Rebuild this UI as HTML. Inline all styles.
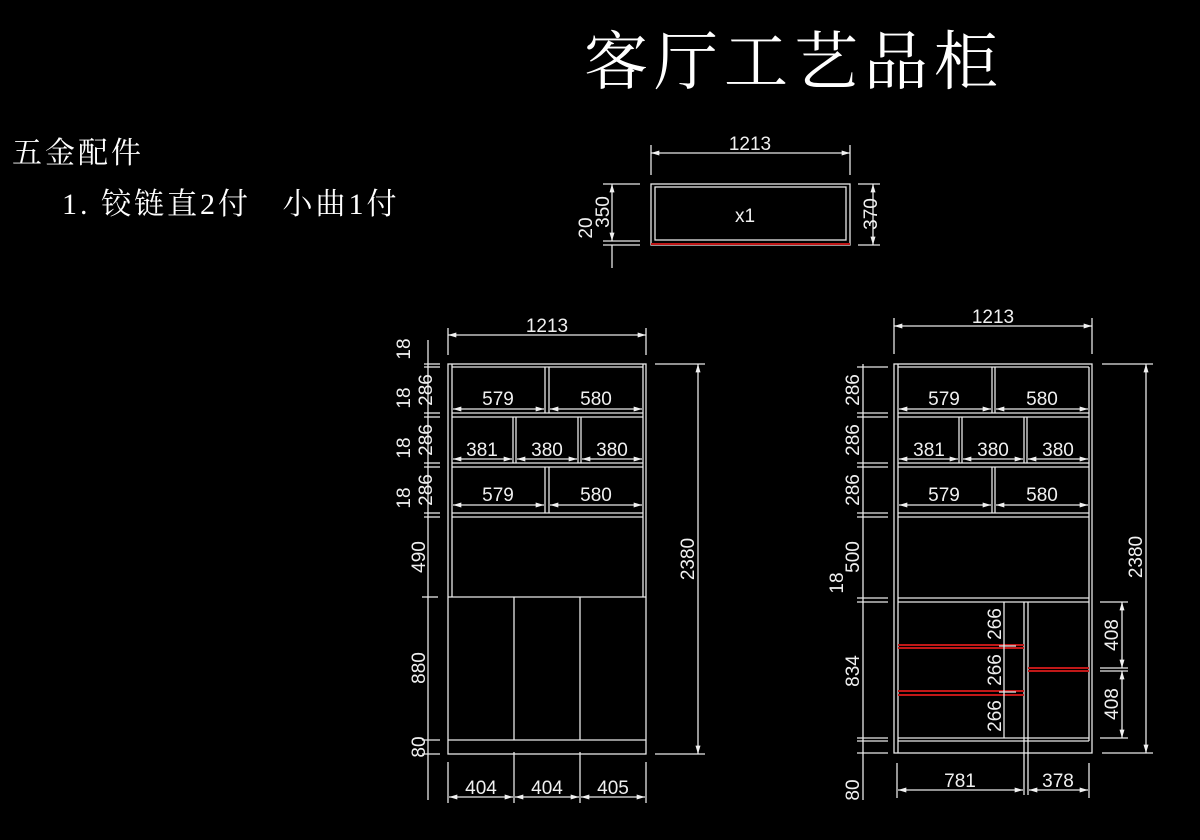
<!DOCTYPE html>
<html><head><meta charset="utf-8"><style>
html,body{margin:0;padding:0;background:#000;width:1200px;height:840px;overflow:hidden}
svg{display:block}
.l{stroke:#e8e8e8;stroke-width:1.3;fill:none}
.r{stroke:#c01818;stroke-width:2;fill:none}
.t{fill:#f0f0f0;font-family:"Liberation Sans",sans-serif;font-size:19px;text-anchor:middle}
</style></head><body>
<svg width="1200" height="840" viewBox="0 0 1200 840">
<defs>
<marker id="a" viewBox="0 0 10 6" refX="10" refY="3" markerWidth="10" markerHeight="5" markerUnits="userSpaceOnUse" orient="auto-start-reverse"><path d="M0,0L10,3L0,6z" fill="#f0f0f0"/></marker>
</defs>
<text x="794" y="84" fill="#fff" font-family="'Noto Serif CJK SC',serif" font-size="64" letter-spacing="6" text-anchor="middle">客厅工艺品柜</text>
<text x="12" y="163" fill="#fff" font-family="'Liberation Serif','Noto Serif CJK SC',serif" font-size="30" letter-spacing="3">五金配件</text>
<text x="62" y="214" fill="#fff" font-family="'Liberation Serif','Noto Serif CJK SC',serif" font-size="30" letter-spacing="3" xml:space="preserve">1. 铰链直2付   小曲1付</text>

<!-- top box -->
<g>
<rect class="l" x="651" y="184" width="199" height="61"/>
<rect class="l" x="655" y="187" width="191" height="53"/>
<line class="r" x1="651" y1="244" x2="850" y2="244"/>
<text class="t" x="745" y="222">x1</text>
<line class="l" x1="651" y1="145" x2="651" y2="175"/><line class="l" x1="850" y1="145" x2="850" y2="175"/>
<line class="l" x1="651" y1="153" x2="850" y2="153" marker-start="url(#a)" marker-end="url(#a)"/>
<text class="t" x="750" y="150">1213</text>
<line class="l" x1="603" y1="184" x2="640" y2="184"/><line class="l" x1="603" y1="241" x2="640" y2="241"/><line class="l" x1="603" y1="245" x2="640" y2="245"/>
<line class="l" x1="612" y1="184" x2="612" y2="241" marker-start="url(#a)" marker-end="url(#a)"/>
<line class="l" x1="612" y1="245" x2="612" y2="268"/>
<text class="t" transform="translate(609,212) rotate(-90)">350</text>
<text class="t" transform="translate(592,228) rotate(-90)">20</text>
<line class="l" x1="858" y1="184" x2="880" y2="184"/><line class="l" x1="858" y1="245" x2="880" y2="245"/>
<line class="l" x1="873" y1="184" x2="873" y2="245" marker-start="url(#a)" marker-end="url(#a)"/>
<text class="t" transform="translate(877,214) rotate(-90)">370</text>
</g>

<!-- LEFT cabinet -->
<g>
<rect class="l" x="448" y="364" width="198" height="390"/>
<line class="l" x1="452" y1="364" x2="452" y2="597"/><line class="l" x1="643" y1="364" x2="643" y2="597"/>
<line class="l" x1="452" y1="367" x2="643" y2="367"/>
<line class="l" x1="452" y1="413" x2="643" y2="413"/><line class="l" x1="452" y1="417" x2="643" y2="417"/>
<line class="l" x1="452" y1="463" x2="643" y2="463"/><line class="l" x1="452" y1="467" x2="643" y2="467"/>
<line class="l" x1="452" y1="513" x2="643" y2="513"/><line class="l" x1="452" y1="517" x2="643" y2="517"/>
<line class="l" x1="448" y1="597" x2="646" y2="597"/>
<line class="l" x1="448" y1="740" x2="646" y2="740"/>
<line class="l" x1="545" y1="367" x2="545" y2="413"/><line class="l" x1="549" y1="367" x2="549" y2="413"/>
<line class="l" x1="513" y1="417" x2="513" y2="463"/><line class="l" x1="516" y1="417" x2="516" y2="463"/>
<line class="l" x1="578" y1="417" x2="578" y2="463"/><line class="l" x1="581" y1="417" x2="581" y2="463"/>
<line class="l" x1="545" y1="467" x2="545" y2="513"/><line class="l" x1="549" y1="467" x2="549" y2="513"/>
<line class="l" x1="514" y1="597" x2="514" y2="740"/><line class="l" x1="580" y1="597" x2="580" y2="740"/>
<line class="l" x1="453" y1="409" x2="544" y2="409" marker-start="url(#a)" marker-end="url(#a)"/><text class="t" x="498" y="405">579</text>
<line class="l" x1="550" y1="409" x2="642" y2="409" marker-start="url(#a)" marker-end="url(#a)"/><text class="t" x="596" y="405">580</text>
<line class="l" x1="453" y1="459" x2="512" y2="459" marker-start="url(#a)" marker-end="url(#a)"/><text class="t" x="482" y="456">381</text>
<line class="l" x1="517" y1="459" x2="577" y2="459" marker-start="url(#a)" marker-end="url(#a)"/><text class="t" x="547" y="456">380</text>
<line class="l" x1="582" y1="459" x2="642" y2="459" marker-start="url(#a)" marker-end="url(#a)"/><text class="t" x="612" y="456">380</text>
<line class="l" x1="453" y1="505" x2="544" y2="505" marker-start="url(#a)" marker-end="url(#a)"/><text class="t" x="498" y="501">579</text>
<line class="l" x1="550" y1="505" x2="642" y2="505" marker-start="url(#a)" marker-end="url(#a)"/><text class="t" x="596" y="501">580</text>
<line class="l" x1="448" y1="328" x2="448" y2="355"/><line class="l" x1="646" y1="328" x2="646" y2="355"/>
<line class="l" x1="448" y1="335" x2="646" y2="335" marker-start="url(#a)" marker-end="url(#a)"/>
<text class="t" x="547" y="332">1213</text>
<line class="l" x1="655" y1="364" x2="705" y2="364"/><line class="l" x1="655" y1="754" x2="705" y2="754"/>
<line class="l" x1="698" y1="364" x2="698" y2="754" marker-start="url(#a)" marker-end="url(#a)"/>
<text class="t" transform="translate(694,559) rotate(-90)">2380</text>
<line class="l" x1="428" y1="340" x2="428" y2="800"/>
<g class="l">
<line x1="424" y1="364" x2="440" y2="364"/><line x1="424" y1="367" x2="440" y2="367"/>
<line x1="424" y1="413" x2="440" y2="413"/><line x1="424" y1="417" x2="440" y2="417"/>
<line x1="424" y1="463" x2="440" y2="463"/><line x1="424" y1="467" x2="440" y2="467"/>
<line x1="424" y1="513" x2="440" y2="513"/><line x1="424" y1="517" x2="440" y2="517"/>
<line x1="422" y1="597" x2="438" y2="597"/><line x1="422" y1="740" x2="440" y2="740"/><line x1="422" y1="754" x2="440" y2="754"/>
</g>
<text class="t" transform="translate(432,390) rotate(-90)">286</text>
<text class="t" transform="translate(432,440) rotate(-90)">286</text>
<text class="t" transform="translate(432,490) rotate(-90)">286</text>
<text class="t" transform="translate(410,349) rotate(-90)">18</text>
<text class="t" transform="translate(410,398) rotate(-90)">18</text>
<text class="t" transform="translate(410,448) rotate(-90)">18</text>
<text class="t" transform="translate(410,498) rotate(-90)">18</text>
<text class="t" transform="translate(425,557) rotate(-90)">490</text>
<text class="t" transform="translate(425,668) rotate(-90)">880</text>
<text class="t" transform="translate(425,747) rotate(-90)">80</text>
<line class="l" x1="448" y1="762" x2="448" y2="803"/><line class="l" x1="514" y1="752" x2="514" y2="803"/><line class="l" x1="580" y1="752" x2="580" y2="803"/><line class="l" x1="646" y1="762" x2="646" y2="803"/>
<line class="l" x1="449" y1="797" x2="513" y2="797" marker-start="url(#a)" marker-end="url(#a)"/><text class="t" x="481" y="794">404</text>
<line class="l" x1="515" y1="797" x2="579" y2="797" marker-start="url(#a)" marker-end="url(#a)"/><text class="t" x="547" y="794">404</text>
<line class="l" x1="581" y1="797" x2="645" y2="797" marker-start="url(#a)" marker-end="url(#a)"/><text class="t" x="613" y="794">405</text>
</g>

<!-- RIGHT cabinet -->
<g>
<rect class="l" x="894" y="364" width="198" height="389"/>
<line class="l" x1="898" y1="364" x2="898" y2="753"/><line class="l" x1="1089" y1="367" x2="1089" y2="741"/>
<line class="l" x1="898" y1="367" x2="1089" y2="367"/>
<line class="l" x1="898" y1="413" x2="1089" y2="413"/><line class="l" x1="898" y1="417" x2="1089" y2="417"/>
<line class="l" x1="898" y1="463" x2="1089" y2="463"/><line class="l" x1="898" y1="467" x2="1089" y2="467"/>
<line class="l" x1="898" y1="513" x2="1089" y2="513"/><line class="l" x1="898" y1="517" x2="1089" y2="517"/>
<line class="l" x1="898" y1="598" x2="1089" y2="598"/><line class="l" x1="898" y1="602" x2="1089" y2="602"/>
<line class="l" x1="898" y1="738" x2="1089" y2="738"/><line class="l" x1="898" y1="741" x2="1089" y2="741"/>
<line class="l" x1="992" y1="367" x2="992" y2="413"/><line class="l" x1="995" y1="367" x2="995" y2="413"/>
<line class="l" x1="959" y1="417" x2="959" y2="463"/><line class="l" x1="962" y1="417" x2="962" y2="463"/>
<line class="l" x1="1024" y1="417" x2="1024" y2="463"/><line class="l" x1="1027" y1="417" x2="1027" y2="463"/>
<line class="l" x1="992" y1="467" x2="992" y2="513"/><line class="l" x1="995" y1="467" x2="995" y2="513"/>
<line class="l" x1="1024" y1="602" x2="1024" y2="795"/><line class="l" x1="1028" y1="602" x2="1028" y2="795"/>
<line class="r" x1="898" y1="645" x2="1024" y2="645"/><line class="r" x1="898" y1="648" x2="1024" y2="648"/>
<line class="r" x1="898" y1="691" x2="1024" y2="691"/><line class="r" x1="898" y1="695" x2="1024" y2="695"/>
<line class="r" x1="1028" y1="668" x2="1089" y2="668"/><line class="r" x1="1028" y1="671" x2="1089" y2="671"/>
<line class="l" x1="999" y1="646" x2="1016" y2="646"/><line class="l" x1="999" y1="692" x2="1016" y2="692"/>
<line class="l" x1="899" y1="409" x2="991" y2="409" marker-start="url(#a)" marker-end="url(#a)"/><text class="t" x="944" y="405">579</text>
<line class="l" x1="996" y1="409" x2="1088" y2="409" marker-start="url(#a)" marker-end="url(#a)"/><text class="t" x="1042" y="405">580</text>
<line class="l" x1="899" y1="459" x2="958" y2="459" marker-start="url(#a)" marker-end="url(#a)"/><text class="t" x="929" y="456">381</text>
<line class="l" x1="963" y1="459" x2="1023" y2="459" marker-start="url(#a)" marker-end="url(#a)"/><text class="t" x="993" y="456">380</text>
<line class="l" x1="1028" y1="459" x2="1088" y2="459" marker-start="url(#a)" marker-end="url(#a)"/><text class="t" x="1058" y="456">380</text>
<line class="l" x1="899" y1="505" x2="991" y2="505" marker-start="url(#a)" marker-end="url(#a)"/><text class="t" x="944" y="501">579</text>
<line class="l" x1="996" y1="505" x2="1088" y2="505" marker-start="url(#a)" marker-end="url(#a)"/><text class="t" x="1042" y="501">580</text>
<line class="l" x1="1004" y1="602" x2="1004" y2="738"/>
<text class="t" transform="translate(1001,624) rotate(-90)">266</text>
<text class="t" transform="translate(1001,670) rotate(-90)">266</text>
<text class="t" transform="translate(1001,716) rotate(-90)">266</text>
<line class="l" x1="1100" y1="602" x2="1128" y2="602"/><line class="l" x1="1100" y1="738" x2="1128" y2="738"/>
<line class="l" x1="1100" y1="668" x2="1128" y2="668"/><line class="l" x1="1100" y1="671" x2="1128" y2="671"/>
<line class="l" x1="1122" y1="602" x2="1122" y2="668" marker-start="url(#a)" marker-end="url(#a)"/>
<line class="l" x1="1122" y1="671" x2="1122" y2="738" marker-start="url(#a)" marker-end="url(#a)"/>
<text class="t" transform="translate(1118,635) rotate(-90)">408</text>
<text class="t" transform="translate(1118,704) rotate(-90)">408</text>
<line class="l" x1="894" y1="318" x2="894" y2="354"/><line class="l" x1="1092" y1="318" x2="1092" y2="354"/>
<line class="l" x1="894" y1="326" x2="1092" y2="326" marker-start="url(#a)" marker-end="url(#a)"/>
<text class="t" x="993" y="323">1213</text>
<line class="l" x1="1102" y1="364" x2="1153" y2="364"/><line class="l" x1="1102" y1="753" x2="1153" y2="753"/>
<line class="l" x1="1146" y1="364" x2="1146" y2="753" marker-start="url(#a)" marker-end="url(#a)"/>
<text class="t" transform="translate(1142,557) rotate(-90)">2380</text>
<line class="l" x1="863" y1="364" x2="863" y2="800"/>
<g class="l">
<line x1="857" y1="367" x2="888" y2="367"/>
<line x1="857" y1="413" x2="888" y2="413"/><line x1="857" y1="417" x2="888" y2="417"/>
<line x1="857" y1="463" x2="888" y2="463"/><line x1="857" y1="467" x2="888" y2="467"/>
<line x1="857" y1="513" x2="888" y2="513"/><line x1="857" y1="517" x2="888" y2="517"/>
<line x1="857" y1="598" x2="888" y2="598"/><line x1="857" y1="602" x2="888" y2="602"/>
<line x1="857" y1="738" x2="888" y2="738"/><line x1="857" y1="741" x2="888" y2="741"/><line x1="857" y1="753" x2="888" y2="753"/>
</g>
<text class="t" transform="translate(859,390) rotate(-90)">286</text>
<text class="t" transform="translate(859,440) rotate(-90)">286</text>
<text class="t" transform="translate(859,490) rotate(-90)">286</text>
<text class="t" transform="translate(859,557) rotate(-90)">500</text>
<text class="t" transform="translate(843,583) rotate(-90)">18</text>
<text class="t" transform="translate(859,671) rotate(-90)">834</text>
<text class="t" transform="translate(859,790) rotate(-90)">80</text>
<line class="l" x1="897" y1="763" x2="897" y2="798"/><line class="l" x1="1089" y1="763" x2="1089" y2="798"/>
<line class="l" x1="898" y1="790" x2="1023" y2="790" marker-start="url(#a)" marker-end="url(#a)"/><text class="t" x="960" y="787">781</text>
<line class="l" x1="1029" y1="790" x2="1088" y2="790" marker-start="url(#a)" marker-end="url(#a)"/><text class="t" x="1058" y="787">378</text>
</g>
</svg>
</body></html>
